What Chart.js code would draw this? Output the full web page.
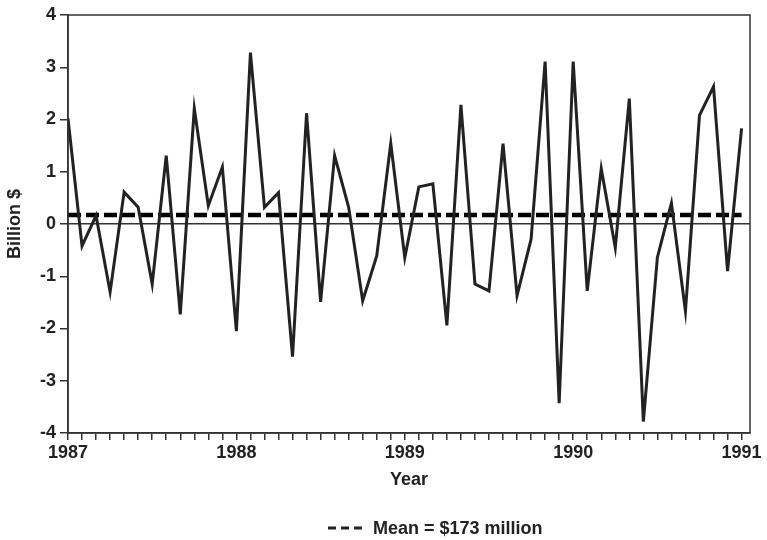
<!DOCTYPE html>
<html>
<head>
<meta charset="utf-8">
<title>Monthly values, 1987-1991</title>
<script src="https://cdn.jsdelivr.net/npm/chart.js@4.4.1/dist/chart.umd.min.js"></script>
<style>
  html, body { margin: 0; padding: 0; background: #ffffff; }
  #wrap { width: 767px; height: 540px; }
</style>
</head>
<body>
<div id="wrap"><canvas id="chart"></canvas></div>
<script>
// Monthly values, Jan 1987 .. Jan 1991 (billion $)
const monthValues = [
  2.02, -0.42, 0.16, -1.30, 0.61, 0.32, -1.15, 1.31, -1.73, 2.21, 0.35, 1.09,
  -2.05, 3.28, 0.32, 0.60, -2.54, 2.12, -1.49, 1.31, 0.32, -1.47, -0.61, 1.54,
  -0.64, 0.71, 0.77, -1.94, 2.28, -1.15, -1.28, 1.54, -1.37, -0.29, 3.11, -3.43,
  3.11, -1.28, 1.06, -0.45, 2.40, -3.78, -0.64, 0.40, -1.67, 2.08, 2.63, -0.90,
  1.83
];
const yearLabels = ['1987', '1988', '1989', '1990', '1991'];
const meanValue = 0.173;
const meanLabel = 'Mean = $173 million';
const yTicks = [-4, -3, -2, -1, 0, 1, 2, 3, 4];

const INK = '#222222';
const FONT = 'Liberation Sans, Arial, sans-serif';

const lastMonth = monthValues.length - 1;
const seriesPoints = monthValues.map((v, i) => ({ x: i, y: v }));
const meanPoints = [{ x: 0, y: meanValue }, { x: lastMonth, y: meanValue }];

// box around the plot area
const frame = {
  id: 'frame',
  afterDraw(chart) {
    const { ctx, chartArea: a } = chart;
    ctx.save();
    ctx.strokeStyle = '#333333';
    ctx.lineWidth = 1.5;
    ctx.strokeRect(a.left, a.top, a.right - a.left, a.bottom - a.top);
    ctx.restore();
  }
};

// single legend entry below the axis title
const meanKey = {
  id: 'meanKey',
  afterDraw(chart) {
    const { ctx } = chart;
    ctx.save();
    ctx.strokeStyle = INK;
    ctx.lineWidth = 3;
    ctx.setLineDash([8, 5]);
    ctx.beginPath();
    ctx.moveTo(328, 528);
    ctx.lineTo(365, 528);
    ctx.stroke();
    ctx.setLineDash([]);
    ctx.fillStyle = INK;
    ctx.font = 'bold 18px ' + FONT;
    ctx.textBaseline = 'middle';
    ctx.fillText(meanLabel, 373, 529);
    ctx.restore();
  }
};

new Chart(document.getElementById('chart'), {
  type: 'line',
  data: {
    datasets: [
      {
        label: 'Monthly',
        data: seriesPoints,
        borderColor: INK,
        borderWidth: 3,
        pointRadius: 0,
        tension: 0,
        borderJoinStyle: 'miter'
      },
      {
        label: meanLabel,
        data: meanPoints,
        borderColor: '#000000',
        borderWidth: 4.5,
        borderDash: [13, 5],
        pointRadius: 0
      }
    ]
  },
  options: {
    responsive: true,
    maintainAspectRatio: false,
    animation: false,
    layout: { padding: { top: 15, right: 17, bottom: 45, left: 0 } },
    plugins: {
      legend: { display: false },
      tooltip: { enabled: false }
    },
    scales: {
      x: {
        type: 'linear',
        min: 0,
        max: 48.6,
        afterFit(scale) { scale.height = 62; },
        border: { color: '#333333', width: 1.5 },
        grid: { drawOnChartArea: false, tickLength: 7, color: '#333333', lineWidth: 1.5 },
        ticks: {
          stepSize: 1,
          includeBounds: false,
          autoSkip: false,
          maxRotation: 0,
          padding: 2,
          color: INK,
          font: { family: FONT, size: 18, weight: 'bold' },
          callback: v => (v % 12 === 0 ? yearLabels[v / 12] : '')
        },
        title: {
          display: true,
          text: 'Year',
          color: INK,
          font: { family: FONT, size: 18, weight: 'bold' }
        }
      },
      y: {
        min: yTicks[0],
        max: yTicks[yTicks.length - 1],
        afterFit(scale) { scale.width = 68; },
        afterBuildTicks(scale) { scale.ticks = yTicks.map(v => ({ value: v })); },
        border: { color: '#333333', width: 1.5 },
        grid: {
          drawOnChartArea: true,
          tickLength: 8,
          lineWidth: 1.5,
          tickColor: '#333333',
          color: ctx => (ctx.tick && ctx.tick.value === 0 ? '#333333' : 'rgba(0,0,0,0)')
        },
        ticks: {
          padding: 4,
          color: INK,
          font: { family: FONT, size: 18, weight: 'bold' }
        },
        title: {
          display: true,
          text: 'Billion $',
          color: INK,
          font: { family: FONT, size: 18, weight: 'bold' }
        }
      }
    }
  },
  plugins: [frame, meanKey]
});
</script>
</body>
</html>
